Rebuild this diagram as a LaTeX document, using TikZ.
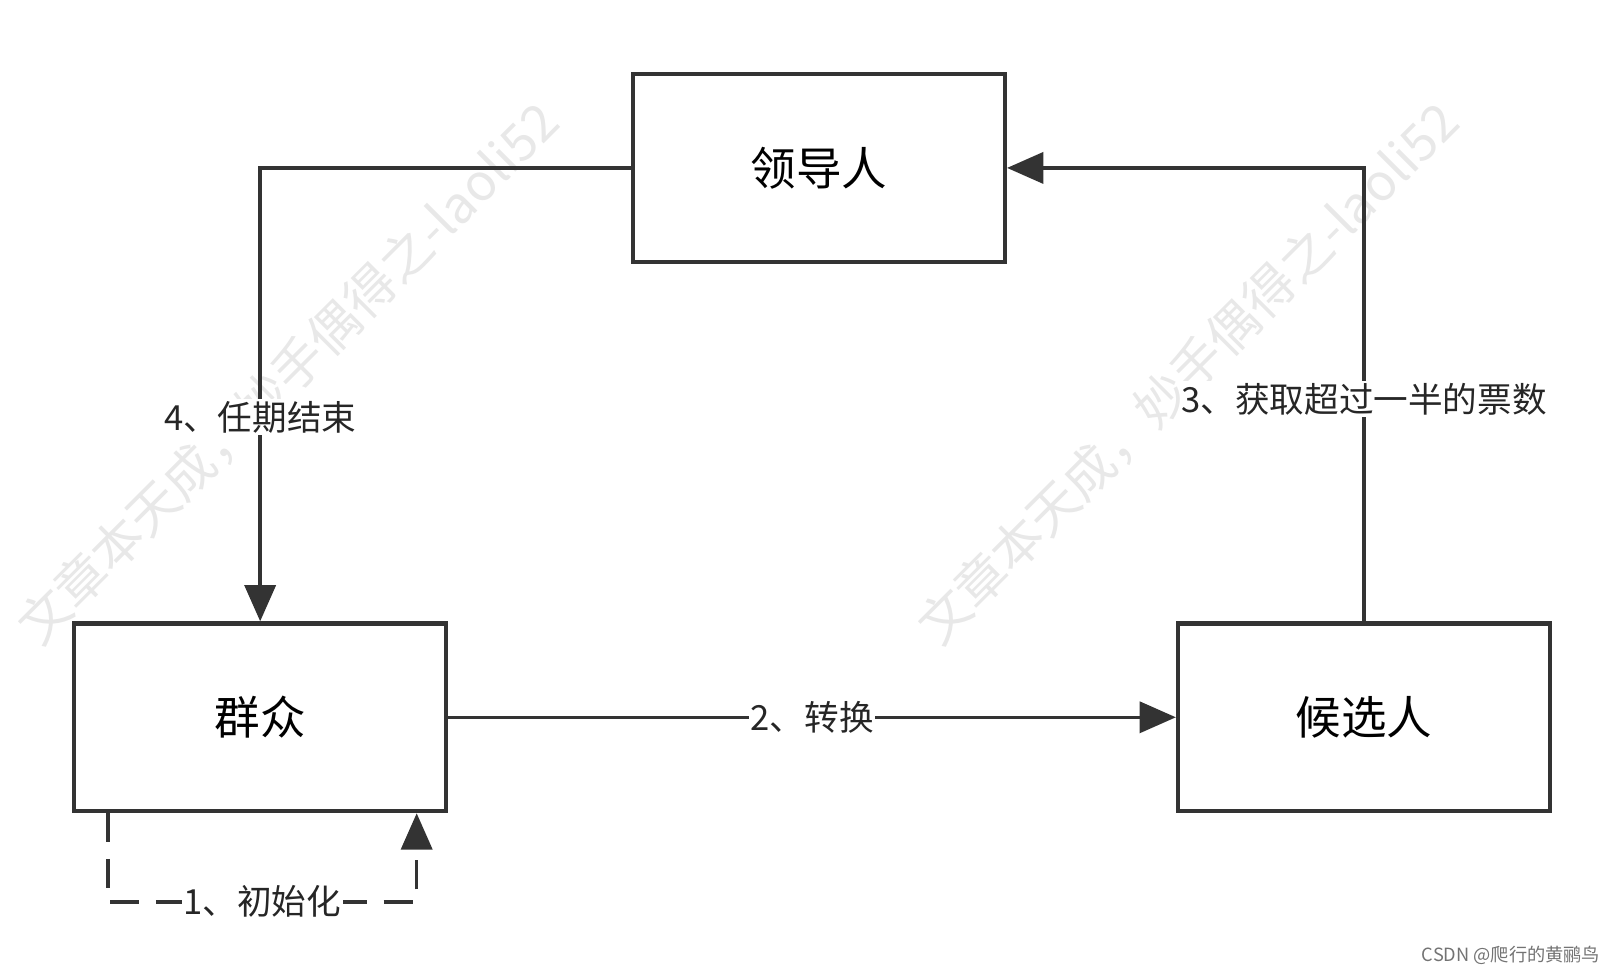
\documentclass[tikz,border=0pt]{standalone}
\usepackage{fontspec}
\setmainfont{Noto Sans CJK SC}
\usetikzlibrary{arrows.meta}
\tikzset{
  statebox/.style={draw=black!80,line width=2.4pt,minimum width=7.18cm,minimum height=3.62cm,font=\fontsize{25}{30}\selectfont},
  flow/.style={draw=black!80,line width=1.9pt,-{Triangle[length=0.7cm,width=0.6cm]}},
  edgelabel/.style={fill=white,inner sep=1pt,font=\fontsize{19}{22}\selectfont,text=black!85},
  watermark/.style={text=black!9,rotate=45,font=\fontsize{28}{32}\selectfont}
}
\begin{document}
\begin{tikzpicture}[x=0.02cm,y=-0.02cm]
  \useasboundingbox (0,0) rectangle (1560,938);
  \node [watermark] (wm left) at (278,360) {文章本天成，妙手偶得之-laoli52};
  \node [watermark] (wm right) at (1146,360) {文章本天成，妙手偶得之-laoli52};
  \node [statebox] (leader) at (790,162) {领导人};
  \node [statebox] (mass) at (251,692) {群众};
  \node [statebox] (cand) at (1316,692) {候选人};
  \coordinate (top left) at (251,162);
  \coordinate (top right) at (1316,162);
  \coordinate (dash a) at (104,870);
  \coordinate (dash b) at (402,870);
  \draw [flow]
    (leader.west)
    -- (top left)
    -- (mass.north)
      node [pos=0.55,edgelabel] {4、任期结束}
  ;
  \draw [flow]
    (mass.east)
    -- (cand.west)
      node [pos=0.5,edgelabel] {2、转换}
  ;
  \draw [flow]
    (cand.north)
    -- (top right)
      node [pos=0.49,edgelabel] {3、获取超过一半的票数}
    -- (leader.east)
  ;
  \draw [flow,dashed,dash pattern=on 16pt off 9pt]
    (mass.south west -| dash a)
    -- (dash a)
    -- (dash b)
      node [pos=0.5,edgelabel] {1、初始化}
    -- (mass.south -| dash b)
  ;
  \node [text=black!55,font=\fontsize{10}{12}\selectfont,anchor=east] (csdn) at (1550,922) {CSDN @爬行的黄鹂鸟};
\end{tikzpicture}
\end{document}
